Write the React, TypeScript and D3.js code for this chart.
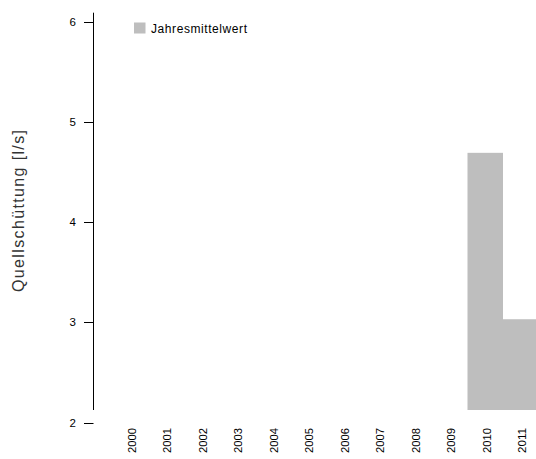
import React from "react";
import * as d3 from "d3";

const years = ["2000","2001","2002","2003","2004","2005","2006","2007","2008","2009","2010","2011"];
const annualMean: (number | null)[] = [null,null,null,null,null,null,null,null,null,null,4.69,3.03];
const yTicks = [2, 3, 4, 5, 6];
const yLabel = "Quellschüttung [l/s]";
const legendLabel = "Jahresmittelwert";

const W = 536, H = 459;
const plotTop = 12.7, plotBottom = 410;
const axisX = 93.5;
const font = "Liberation Sans";
const barColor = "#BEBEBE";

export default function App() {
  const x = d3.scaleBand<string>().domain(years).range([112.5, 538.5]).padding(0);
  const y = d3.scaleLinear().domain([2, 6]).range([422.5, 21.5]);

  return (
    <svg width={W} height={H} style={{ position: "absolute", left: 0, top: 0, background: "#fff" }}>
      <rect width={W} height={H} fill="#fff" />
      {years.map((yr, i) => {
        const v = annualMean[i];
        if (v == null) return null;
        const x0 = x(yr)!;
        return (
          <rect key={yr} x={x0} y={y(v)} width={x.bandwidth()} height={plotBottom - y(v)} fill={barColor} />
        );
      })}
      <line x1={axisX} x2={axisX} y1={plotTop} y2={plotBottom} stroke="#000" strokeWidth={1} />
      {yTicks.map((t) => (
        <g key={t}>
          <line x1={84} x2={axisX} y1={Math.round(y(t)) + 0.5} y2={Math.round(y(t)) + 0.5} stroke="#000" strokeWidth={1} />
          <text x={76} y={y(t) + 4} textAnchor="end" fontFamily={font} fontSize={11.5} fill="#000">{t}</text>
        </g>
      ))}
      {years.map((yr) => {
        const cx = x(yr)! + x.bandwidth() / 2 + 5.5;
        return (
          <text key={yr} transform={`translate(${cx},428) rotate(-90)`} textAnchor="end" fontFamily={font} fontSize={11.5} fill="#000" textLength={25} lengthAdjust="spacingAndGlyphs">{yr}</text>
        );
      })}
      <text transform={`translate(24,211) rotate(-90)`} textAnchor="middle" fontFamily={font} fontSize={16} fill="#333" textLength={162} lengthAdjust="spacing">{yLabel}</text>
      <rect x={134} y={22.5} width={11.5} height={11} fill={barColor} />
      <text x={151} y={33} fontFamily={font} fontSize={12} fill="#000" textLength={96} lengthAdjust="spacing">{legendLabel}</text>
    </svg>
  );
}
